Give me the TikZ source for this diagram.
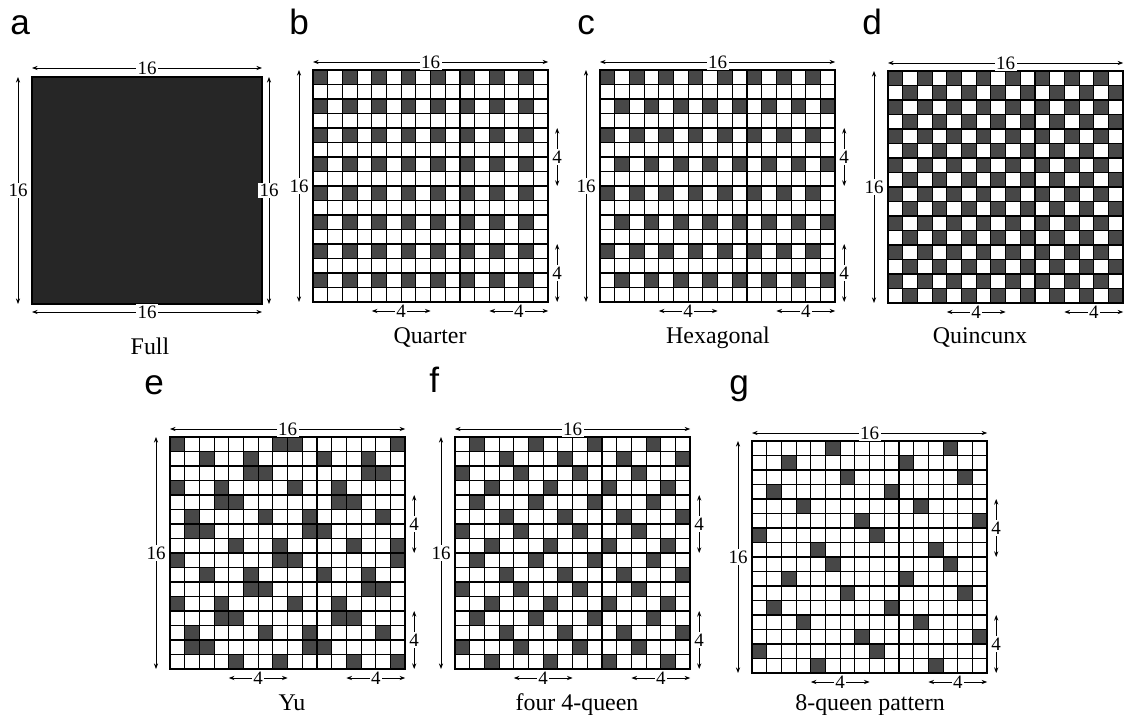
\documentclass[tikz,border=0pt]{standalone}
\usepackage{fontspec}
\setmainfont{Liberation Serif}
\newfontfamily\letterfont{Liberation Sans}
\usetikzlibrary{arrows.meta}

% one cell of a board: x0, y0, row, column
\newcommand{\cellfill}[4]{\path[cell] ({#1+(#4)*\cw},{#2+(#3)*\ch}) rectangle ++(\cw,\ch);}

% grid lines, frame and the ends of the dimension arrows of a 16x16 board
\newcommand{\boardlines}[3]{%
  \foreach \k in {1,...,15} {
    \draw[gridline] ({#2+\k*\cw},#3) -- ++(0,16*\ch);
    \draw[gridline] (#2,{#3+\k*\ch}) -- ++(16*\cw,0);
  }
  \draw[frame] (#2,#3) rectangle ++(16*\cw,16*\ch);
  \coordinate (#1-t1) at (#2,{#3-8});
  \coordinate (#1-t2) at ({#2+16*\cw},{#3-8});
  \coordinate (#1-l1) at ({#2-14},#3);
  \coordinate (#1-l2) at ({#2-14},{#3+16*\ch});
  \coordinate (#1-r1) at ({#2+16*\cw+9},{#3+4*\ch});
  \coordinate (#1-r2) at ({#2+16*\cw+9},{#3+8*\ch});
  \coordinate (#1-r3) at ({#2+16*\cw+9},{#3+12*\ch});
  \coordinate (#1-r4) at ({#2+16*\cw+9},{#3+16*\ch});
  \coordinate (#1-b1) at ({#2+4*\cw},{#3+16*\ch+9});
  \coordinate (#1-b2) at ({#2+8*\cw},{#3+16*\ch+9});
  \coordinate (#1-b3) at ({#2+12*\cw},{#3+16*\ch+9});
  \coordinate (#1-b4) at ({#2+16*\cw},{#3+16*\ch+9});
}

\begin{document}
\begin{tikzpicture}[x=0.025cm, y=-0.025cm, every node/.style={inner sep=0pt}]
  \def\cw{14.7}
  \def\ch{14.5}

  \tikzset{
    cell/.style={fill=black!72},
    fullfill/.style={fill=black!85},
    gridline/.style={line width=0.8pt},
    frame/.style={line width=1.4pt},
    dim/.style={{Stealth[length=4pt,width=3pt]}-{Stealth[length=4pt,width=3pt]}, line width=0.6pt},
    dimlab/.style={fill=white, inner sep=1pt, font=\fontsize{13.5}{14}\selectfont},
    caplab/.style={anchor=base, font=\fontsize{17}{18}\selectfont},
    panlab/.style={anchor=base west, font=\letterfont\fontsize{25}{25}\selectfont}
  }

  \path[use as bounding box, fill=white] (0,0) rectangle (1129,715);

  % panel letters
  \node[panlab] (let-a) at (10,35) {a};
  \node[panlab] (let-b) at (289,35) {b};
  \node[panlab] (let-c) at (577,35) {c};
  \node[panlab] (let-d) at (862,35) {d};
  \node[panlab] (let-e) at (144,394) {e};
  \node[panlab] (let-f) at (429,392) {f};
  \node[panlab] (let-g) at (729,394) {g};

  % a, full
  \path[fullfill] (32,77) rectangle (262,304);
  \draw[frame] (32,77) rectangle (262,304);
  \coordinate (a-t1) at (32,68);
  \coordinate (a-t2) at (262,68);
  \coordinate (a-l1) at (18,77);
  \coordinate (a-l2) at (18,304);
  \coordinate (a-r1) at (269,77);
  \coordinate (a-r2) at (269,304);
  \coordinate (a-b1) at (32,312);
  \coordinate (a-b2) at (262,312);
  \draw[dim] (a-t1) -- node[dimlab] (a-top) {16} (a-t2);
  \draw[dim] (a-l1) -- node[dimlab] (a-left) {16} (a-l2);
  \draw[dim] (a-r1) -- node[dimlab] (a-right) {16} (a-r2);
  \draw[dim] (a-b1) -- node[dimlab] (a-bot) {16} (a-b2);
  \node[caplab] (cap-a) at (150,354) {Full};

  % b, quarter
  \foreach \r in {0,2,...,14} \foreach \c in {0,2,...,14} {\cellfill{313}{70}{\r}{\c}}
  \boardlines{b}{313}{70}

  % c, hexagonal
  \foreach \r in {0,2,...,14} {
    \pgfmathtruncatemacro\s{mod(\r/2,2)}
    \foreach \c in {0,2,...,14} {\cellfill{600}{70}{\r}{\c+\s}}
  }
  \boardlines{c}{600}{70}

  % d, quincunx
  \foreach \r in {0,...,15} {
    \pgfmathtruncatemacro\s{mod(\r,2)}
    \foreach \c in {0,2,...,14} {\cellfill{888}{71}{\r}{\c+\s}}
  }
  \boardlines{d}{888}{71}

  % e, Yu
  \foreach \r/\p/\q in {0/0/7,1/2/5,2/5/6,3/0/3,4/3/4,5/1/6,6/1/2,7/4/7}
    \foreach \ro in {0,8} \foreach \co in {0,8} {
      \cellfill{170}{437}{\r+\ro}{\p+\co}
      \cellfill{170}{437}{\r+\ro}{\q+\co}
    }
  \boardlines{e}{170}{437}

  % f, four 4-queen
  \foreach \r/\p in {0/1,1/3,2/0,3/2}
    \foreach \ro in {0,4,8,12} \foreach \co in {0,4,8,12} {\cellfill{455}{437}{\r+\ro}{\p+\co}}
  \boardlines{f}{455}{437}

  % g, 8-queen
  \foreach \r/\p in {0/5,1/2,2/6,3/1,4/3,5/7,6/0,7/4}
    \foreach \ro in {0,8} \foreach \co in {0,8} {\cellfill{752}{441}{\r+\ro}{\p+\co}}
  \boardlines{g}{752}{441}

  % dimension arrows of the 16x16 boards
  \foreach \b in {b,c,d,e,f,g} {
    \draw[dim] (\b-t1) -- node[dimlab] (\b-top) {16} (\b-t2);
    \draw[dim] (\b-l1) -- node[dimlab] (\b-left) {16} (\b-l2);
    \draw[dim] (\b-b1) -- node[dimlab] (\b-bot1) {4} (\b-b2);
    \draw[dim] (\b-b3) -- node[dimlab] (\b-bot2) {4} (\b-b4);
  }
  \foreach \b in {b,c,e,f,g} {
    \draw[dim] (\b-r1) -- node[dimlab] (\b-side1) {4} (\b-r2);
    \draw[dim] (\b-r3) -- node[dimlab] (\b-side2) {4} (\b-r4);
  }

  % captions
  \node[caplab] (cap-b) at (430,343) {Quarter};
  \node[caplab] (cap-c) at (718,343) {Hexagonal};
  \node[caplab] (cap-d) at (980,343) {Quincunx};
  \node[caplab] (cap-e) at (292,710) {Yu};
  \node[caplab] (cap-f) at (577,710) {four 4-queen};
  \node[caplab] (cap-g) at (870,710) {8-queen pattern};

\end{tikzpicture}
\end{document}
